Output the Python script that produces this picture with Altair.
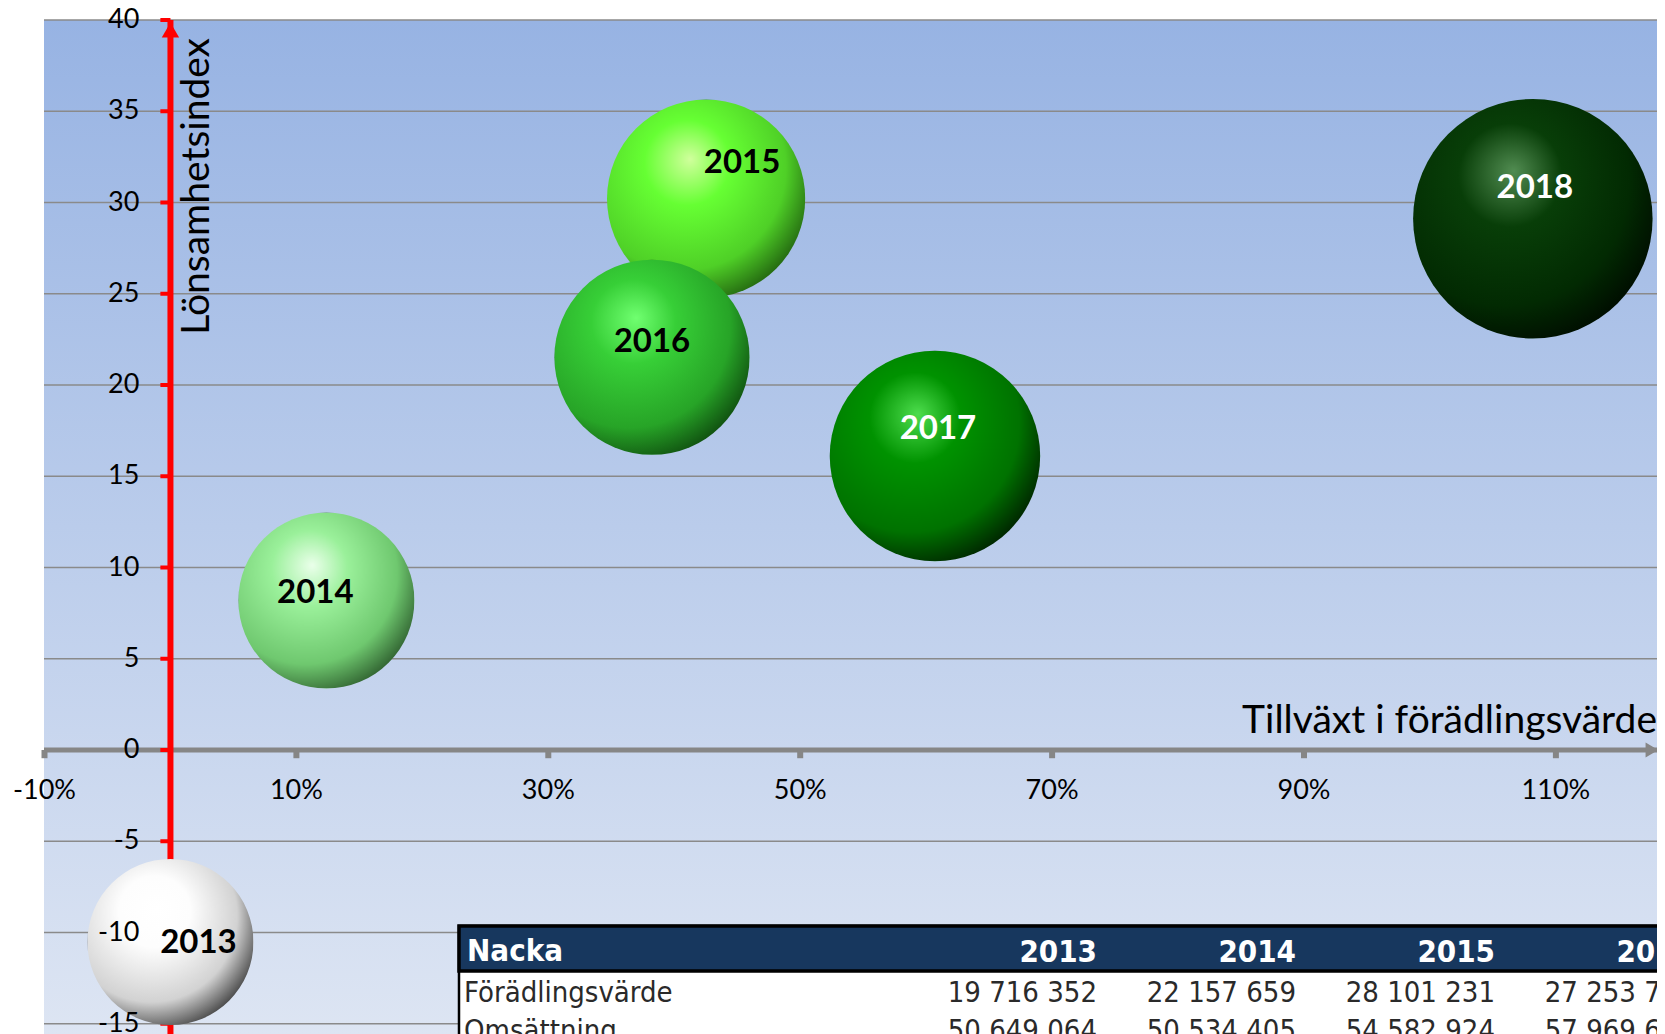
import altair as alt
import pandas as pd

# ---------------- data ----------------
years = [2013, 2014, 2015, 2016, 2017, 2018]
growth = [0.0, 12.38, 42.53, 38.23, 60.70, 108.17]        # Tillväxt i förädlingsvärde (%)
lonsamhet = [-10.52, 8.19, 30.21, 21.52, 16.11, 29.11]     # Lönsamhetsindex
foradling = [19716352, 22157659, 28101231, 27253725, 31684000, 41043000]
label_colors = ["black", "black", "black", "black", "white", "white"]

y_ticks = [-15, -10, -5, 0, 5, 10, 15, 20, 25, 30, 35, 40]
x_ticks = [-10, 10, 30, 50, 70, 90, 110]

table_head = "Nacka"
table_years = ["2013", "2014", "2015", "2016"]
table_rows = ["Förädlingsvärde", "Omsättning"]
table_fv = ["19 716 352", "22 157 659", "28 101 231", "27 253 725"]
table_oms = ["50 649 064", "50 534 405", "54 582 924", "57 969 670"]

# sphere colours: highlight, main, mid, edge
sphere_cols = {
    2013: ("#ffffff", "#fdfdfd", "#d2d2d2", "#383838"),
    2014: ("#eaffea", "#9af09a", "#6fc86f", "#2a582a"),
    2015: ("#d0ff9c", "#66ff33", "#4fd027", "#1f5c0e"),
    2016: ("#70ff70", "#37cf37", "#27a427", "#0d460d"),
    2017: ("#4ddd4d", "#009200", "#007200", "#001c00"),
    2018: ("#518c51", "#083e08", "#022a02", "#000a00"),
}

# ---------------- layout ----------------
PAD_L, PAD_T = 36, 12
W, H = 1613, 1014
PX_X = 12.595
PX_Y = 18.25
X_MIN = -10 - 0.5 / PX_X
X_MAX = X_MIN + W / PX_X
Y_MAX = 40
Y_MIN = Y_MAX - H / PX_Y
BASE_DIAM = 166.0   # pixel diameter of the 2013 bubble
SIZE_DOMAIN_MAX = 45e6
SIZE_RANGE_MAX = BASE_DIAM ** 2 * (SIZE_DOMAIN_MAX / foradling[0])  # vega circle: size = diameter^2
# label offsets from bubble centre (px, right / down)
LABEL_OFFSETS = {2013: (28, 1), 2014: (-11, -8), 2015: (36, -36),
                 2016: (0, -15), 2017: (3, -27), 2018: (2, -31)}


def px2x(page_x):
    return X_MIN + (page_x - 8 - PAD_L) / PX_X


def px2y(page_y):
    return Y_MAX - (page_y - 8 - PAD_T) / PX_Y


xs = alt.Scale(domain=[X_MIN, X_MAX], nice=False, zero=False)
ys = alt.Scale(domain=[Y_MIN, Y_MAX], nice=False, zero=False)


def X(f):
    return alt.X(f, type="quantitative", scale=xs, axis=None)


def Y(f):
    return alt.Y(f, type="quantitative", scale=ys, axis=None)


bub = pd.DataFrame({"year": years, "growth": growth, "idx": lonsamhet,
                    "fv": foradling, "lc": label_colors,
                    "lab": [str(y) for y in years]})
bub["lx"] = [g + LABEL_OFFSETS[y][0] / PX_X for g, y in zip(growth, years)]
bub["ly"] = [v - LABEL_OFFSETS[y][1] / PX_Y for v, y in zip(lonsamhet, years)]

ydf = pd.DataFrame({"v": y_ticks, "lab": [str(v) for v in y_ticks],
                    "x0": [0.0] * len(y_ticks), "xl": [-0.8] * len(y_ticks)})
xdf = pd.DataFrame({"v": x_ticks, "lab": [f"{v}%" for v in x_ticks],
                    "y0": [0.0] * len(x_ticks), "yl": [-0.45] * len(x_ticks)})
zero = pd.DataFrame({"z": [0.0]})

layers = []

# background gradient
bg = alt.Chart(zero).mark_rect(
    fill={"gradient": "linear", "x1": 0, "y1": 0, "x2": 0, "y2": 1,
          "stops": [{"offset": 0, "color": "#97b3e3"},
                    {"offset": 1, "color": "#dde5f3"}]}
).encode(x=alt.value(0), x2=alt.value(W), y=alt.value(0), y2=alt.value(H))
layers.append(bg)

# grid lines
layers.append(alt.Chart(ydf).mark_rule(color="#8a8a8a", strokeWidth=1.6).encode(y=Y("v")))

# x axis line, ticks, arrow
layers.append(alt.Chart(zero).mark_rule(color="#868686", strokeWidth=5).encode(y=Y("z")))
layers.append(alt.Chart(xdf).mark_rule(color="#868686", strokeWidth=6).encode(
    x=X("v"), y=Y("y0"), y2="yl:Q"))
arrow_x = pd.DataFrame({"x": [px2x(1652)], "y": [0.0]})
layers.append(alt.Chart(arrow_x).mark_point(shape="triangle-right", filled=True, opacity=1,
                                            color="#868686", size=220).encode(
    x=X("x"), y=Y("y")))

# red y axis
layers.append(alt.Chart(ydf).mark_rule(color="#ff0000", strokeWidth=4).encode(
    y=Y("v"), x=X("xl"), x2="x0:Q"))
layers.append(alt.Chart(zero).mark_rule(color="#ff0000", strokeWidth=6).encode(x=X("z")))
arrow_y = pd.DataFrame({"x": [0.0], "y": [px2y(30)]})
layers.append(alt.Chart(arrow_y).mark_point(shape="triangle-up", filled=True, opacity=1,
                                            color="#ff0000", size=300).encode(
    x=X("x"), y=Y("y")))

# x tick labels
layers.append(alt.Chart(xdf).mark_text(font="Lato", fontSize=27, color="black",
                                       baseline="middle", dy=41).encode(
    x=X("v"), y=Y("y0"), text="lab:N"))

# axis titles
xt = pd.DataFrame({"x": [px2x(1657)], "y": [px2y(733)], "t": ["Tillväxt i förädlingsvärde"]})
layers.append(alt.Chart(xt).mark_text(font="Lato", fontSize=39, color="black",
                                      align="right", baseline="alphabetic").encode(
    x=X("x"), y=Y("y"), text="t:N"))
yt = pd.DataFrame({"x": [px2x(209)], "y": [px2y(38)], "t": ["Lönsamhetsindex"]})
layers.append(alt.Chart(yt).mark_text(font="Lato", fontSize=39, color="black",
                                      align="right", baseline="alphabetic",
                                      angle=270).encode(
    x=X("x"), y=Y("y"), text="t:N"))

# bubbles (largest first)
order = sorted(range(len(years)), key=lambda i: -foradling[i])
for i in order:
    hi, main, mid, edge = sphere_cols[years[i]]
    grad = {"gradient": "radial", "x1": 0.42, "y1": 0.3, "r1": 0,
            "x2": 0.37, "y2": 0.36, "r2": 0.72,
            "stops": [{"offset": 0, "color": hi},
                      {"offset": 0.3, "color": main},
                      {"offset": 0.72, "color": mid},
                      {"offset": 1, "color": edge}]}
    sub = bub[bub["year"] == years[i]]
    layers.append(alt.Chart(sub).mark_circle(fill=grad, opacity=1).encode(
        x=X("growth"), y=Y("idx"),
        size=alt.Size("fv:Q", scale=alt.Scale(domain=[0, SIZE_DOMAIN_MAX],
                                              range=[0, SIZE_RANGE_MAX]),
                      legend=None)))

# y tick labels (drawn over bubbles)
layers.append(alt.Chart(ydf).mark_text(font="Lato", fontSize=27, color="black",
                                       align="right", baseline="middle", dx=-31).encode(
    x=X("x0"), y=Y("v"), text="lab:N"))

# bubble labels
layers.append(alt.Chart(bub).mark_text(font="Lato", fontWeight="bold", fontSize=33,
                                       baseline="middle").encode(
    x=X("lx"), y=Y("ly"), text="lab:N",
    color=alt.Color("lc:N", scale=None)))

# ---------------- table ----------------
TL, TT, THB = 459, 926, 971
COL0, COLSTEP = 1097, 199
TFONT = "DejaVu Sans Condensed"
body_box = pd.DataFrame({"x": [px2x(TL)], "x2": [px2x(1800)],
                         "y": [px2y(TT)], "y2": [px2y(1080)]})
head_box = pd.DataFrame({"x": [px2x(TL)], "x2": [px2x(1800)],
                         "y": [px2y(TT)], "y2": [px2y(THB)]})
layers.append(alt.Chart(body_box).mark_rect(fill="white", stroke="black", strokeWidth=2.5).encode(
    x=X("x"), x2="x2:Q", y=Y("y"), y2="y2:Q"))
layers.append(alt.Chart(head_box).mark_rect(fill="#17375e", stroke="black", strokeWidth=3.5).encode(
    x=X("x"), x2="x2:Q", y=Y("y"), y2="y2:Q"))

hdr_left = pd.DataFrame({"x": [px2x(467)], "y": [px2y(961)], "t": [table_head]})
hdr_right = pd.DataFrame({"x": [px2x(COL0 + COLSTEP * k) for k in range(len(table_years))],
                          "y": [px2y(962)] * len(table_years), "t": table_years})
body_left = pd.DataFrame({"x": [px2x(464)] * 2, "y": [px2y(1002), px2y(1040)],
                          "t": table_rows})
vals = table_fv + table_oms
body_right = pd.DataFrame({
    "x": [px2x(COL0 + COLSTEP * k) for k in range(len(table_fv))] * 2,
    "y": [px2y(1002)] * len(table_fv) + [px2y(1040)] * len(table_oms),
    "t": vals})

for df, align, weight, col, fs in [(hdr_left, "left", "bold", "white", 31),
                                   (hdr_right, "right", "bold", "white", 31),
                                   (body_left, "left", "normal", "#2a2a2a", 29),
                                   (body_right, "right", "normal", "#2a2a2a", 29)]:
    layers.append(alt.Chart(df).mark_text(font=TFONT, fontSize=fs, fontWeight=weight,
                                          color=col, align=align,
                                          baseline="alphabetic").encode(
        x=X("x"), y=Y("y"), text="t:N"))

chart = alt.layer(*layers).properties(
    width=W, height=H,
    autosize=alt.AutoSizeParams(type="none"),
    padding={"left": PAD_L, "top": PAD_T, "right": 0, "bottom": 0},
).configure_view(strokeWidth=0).configure(background="white")

chart.save("out.html", embed_options={"renderer": "svg", "actions": False})
